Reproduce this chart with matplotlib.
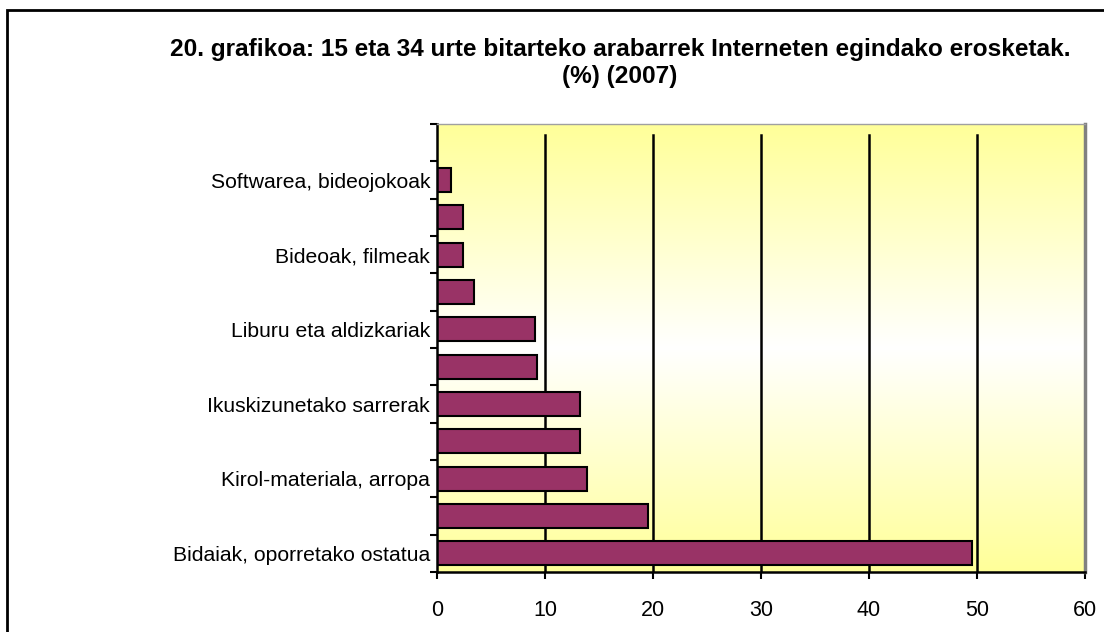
import numpy as np
import matplotlib
matplotlib.use("Agg")
from matplotlib import pyplot as plt
from matplotlib.colors import LinearSegmentedColormap
from matplotlib.patches import Rectangle

plt.rcParams['font.family'] = ['Liberation Sans', 'DejaVu Sans']

# categories from bottom to top; unlabeled ones could not be read in the original
labels = ["Bidaiak, oporretako ostatua", "", "Kirol-materiala, arropa", "",
          "Ikuskizunetako sarrerak", "", "Liburu eta aldizkariak", "",
          "Bideoak, filmeak", "", "Softwarea, bideojokoak"]
values = [49.5, 19.5, 13.9, 13.2, 13.2, 9.3, 9.1, 3.4, 2.4, 2.4, 1.3]
xticks = [0, 10, 20, 30, 40, 50, 60]
title = ("20. grafikoa: 15 eta 34 urte bitarteko arabarrek Interneten egindako erosketak.\n"
         "(%) (2007)")

fig = plt.figure(figsize=(11.04, 6.32), dpi=100)
ax = fig.add_axes([437/1104, 1-572/632, (1085-437)/1104, (572-124)/632])

# background gradient: yellow at top and bottom, white in the middle
cmap = LinearSegmentedColormap.from_list("bg", ["#FFFF99", "#FFFFFF", "#FFFF99"])
grad = np.linspace(0, 1, 256).reshape(-1, 1)
ax.imshow(grad, cmap=cmap, aspect="auto", extent=[0, 1, 0, 1],
          transform=ax.transAxes, zorder=0)

# grid lines
for x in xticks[1:-1]:
    ax.axvline(x, ymin=0, ymax=0.975, color="black", lw=1.8, zorder=1)

y = np.arange(len(values))
ax.barh(y, values, height=0.64, color="#993366", edgecolor="black",
        linewidth=1.5, zorder=2)

ax.set_xlim(0, 60)
ax.set_ylim(-0.5, 11.5)
ax.set_xticks(xticks)
ax.set_xticklabels([str(t) for t in xticks], fontsize=15.5)
ax.set_yticks(y)
ax.set_yticklabels(labels, fontsize=15.2)
ax.set_yticks(np.arange(-0.5, 12, 1), minor=True)
ax.tick_params(axis="y", which="major", length=0, pad=5)
ax.tick_params(axis="y", which="minor", length=5, width=1.5, direction="out")
ax.tick_params(axis="x", length=5, width=1.5, direction="out", pad=15)

ax.spines["left"].set_linewidth(1.8)
ax.spines["bottom"].set_linewidth(1.8)
ax.spines["top"].set_color("#a0a0a0")
ax.spines["top"].set_linewidth(1)
ax.spines["right"].set_color("#808080")
ax.spines["right"].set_linewidth(2.5)

fig.text(620/1104, 1-63/632, title, ha="center", va="center",
         fontsize=17.6, fontweight="bold", linespacing=1.2)

# outer chart border (cropped at right and bottom)
fig.patches.append(Rectangle((7/1104, -0.1), 2, 1.1 - 10/632, fill=False,
                             edgecolor="black", linewidth=2,
                             transform=fig.transFigure, figure=fig))

fig.savefig("out.png", dpi=100)
